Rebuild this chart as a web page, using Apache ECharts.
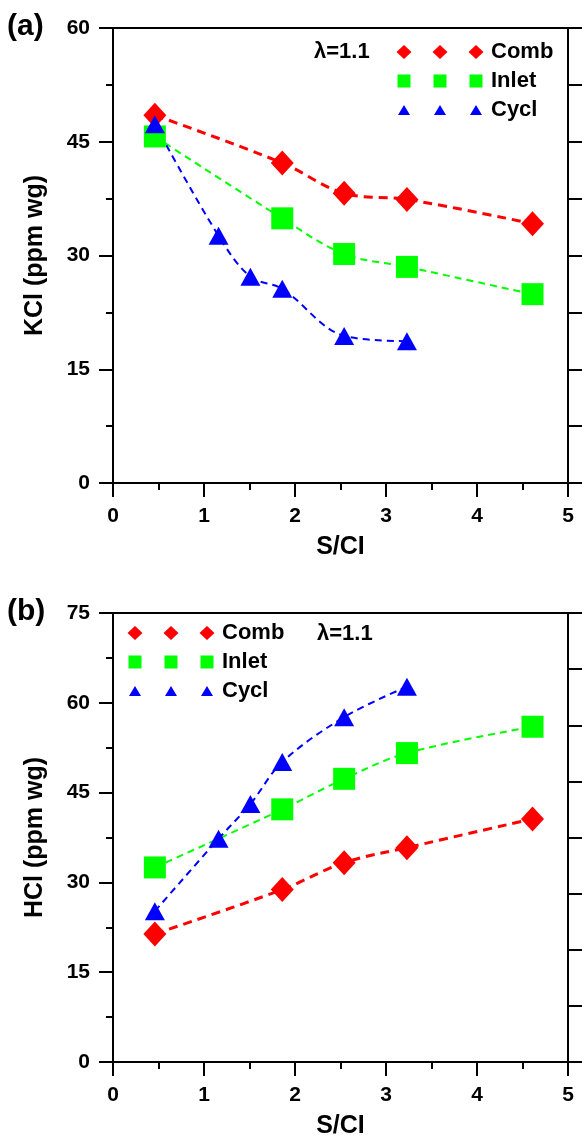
<!DOCTYPE html>
<html><head><meta charset="utf-8">
<script src="https://cdn.jsdelivr.net/npm/echarts@6/dist/echarts.min.js"></script>
<style>html,body{margin:0;padding:0;background:#fff}#c{width:582px;height:1140px}</style>
</head><body><div id="c"></div>
<script>
// ---- data ----
const xTicks = [0, 1, 2, 3, 4, 5];
const kclTicks = [0, 15, 30, 45, 60];
const hclTicks = [0, 15, 30, 45, 60, 75];
const xComb = [0.46, 1.86, 2.54, 3.23, 4.61];
const xInlet = [0.46, 1.86, 2.54, 3.23, 4.61];
const xCycl = [0.46, 1.16, 1.51, 1.86, 2.54, 3.23];
const kclComb = [48.5, 42.2, 38.2, 37.4, 34.2];
const kclInlet = [45.7, 34.9, 30.2, 28.5, 24.9];
const kclCycl = [47.3, 32.6, 27.2, 25.6, 19.4, 18.7];
const hclComb = [21.4, 28.8, 33.3, 35.8, 40.6];
const hclInlet = [32.5, 42.2, 47.3, 51.6, 56.0];
const hclCycl = [25.2, 37.3, 43.1, 50.1, 57.6, 62.7];
const seriesNames = ['Comb', 'Inlet', 'Cycl'];
const panelLabels = ['(a)', '(b)'];
const yNames = ['KCl (ppm wg)', 'HCl (ppm wg)'];
const xName = 'S/CI';
const lambdaText = '\u03bb=1.1';

// ---- helpers ----
const FONT = "'Liberation Sans', Arial, sans-serif";
const zip = (xs, ys) => xs.map((x, i) => [x, ys[i]]);
const colors = ['#ff0000', '#00ff00', '#0000ff'];
const grids = [
  { left: 113, top: 28, width: 455, height: 455, show: true, borderColor: '#000', borderWidth: 2 },
  { left: 113, top: 613, width: 455, height: 455, show: true, borderColor: '#000', borderWidth: 2 }
];
const axisLineStyle = { lineStyle: { color: '#000', width: 2 } };
const labelStyle = { color: '#000', fontSize: 21, fontWeight: 'bold', fontFamily: FONT };
const nameStyle = { color: '#000', fontSize: 25, fontWeight: 'bold', fontFamily: FONT };

function xAxis(g) {
  return {
    type: 'value', gridIndex: g, min: xTicks[0], max: xTicks[xTicks.length - 1],
    interval: xTicks[1] - xTicks[0],
    name: xName, nameLocation: 'middle', nameGap: 52, nameTextStyle: nameStyle,
    axisLine: axisLineStyle,
    axisTick: { show: true, inside: false, length: 14, lineStyle: { color: '#000', width: 2 } },
    minorTick: { show: true, splitNumber: 2, length: 7, lineStyle: { color: '#000', width: 2 } },
    axisLabel: Object.assign({ margin: 23 }, labelStyle),
    splitLine: { show: false }
  };
}
function yAxis(g, ticks, name) {
  return {
    type: 'value', gridIndex: g, min: ticks[0], max: ticks[ticks.length - 1],
    interval: ticks[1] - ticks[0], position: 'left',
    name: name, nameLocation: 'middle', nameGap: 65, nameTextStyle: nameStyle,
    axisLine: axisLineStyle,
    axisTick: { show: true, inside: false, length: 14, lineStyle: { color: '#000', width: 2 } },
    minorTick: { show: true, splitNumber: 2, length: 7, lineStyle: { color: '#000', width: 2 } },
    axisLabel: Object.assign({ margin: 23 }, labelStyle),
    splitLine: { show: false }
  };
}
function rightAxis(g) {
  return {
    type: 'value', gridIndex: g, min: 0, max: 8, interval: 1, position: 'right',
    axisLine: { show: true, onZero: false, lineStyle: { color: '#000', width: 2 } },
    axisTick: { show: true, inside: false, length: 14, lineStyle: { color: '#000', width: 2 } },
    axisLabel: { show: false }, splitLine: { show: false }
  };
}

const symbols = [
  { symbol: 'diamond', size: [23, 25], width: 3, dash: [9, 6] },
  { symbol: 'rect', size: 22, width: 2, dash: [7, 5] },
  { symbol: 'triangle', size: [20, 18], width: 2, dash: [7, 5] }
];
function mkSeries(i, g, xs, ys) {
  const s = symbols[i];
  return {
    type: 'line', name: seriesNames[i], xAxisIndex: g, yAxisIndex: g * 2,
    data: zip(xs, ys), smooth: 0.35,
    symbol: s.symbol, symbolSize: s.size, showAllSymbol: true,
    itemStyle: { color: colors[i], borderWidth: 0 },
    lineStyle: { color: colors[i], width: s.width, type: s.dash },
    emphasis: { disabled: true }, animation: false
  };
}

// legend icons: three symbols each, in a 90x16 box
function tri(cx) { return `M${cx} 3 L${cx + 6} 13 L${cx - 6} 13 Z`; }
function dia(cx) { return `M${cx} 1 L${cx + 7.5} 8 L${cx} 15 L${cx - 7.5} 8 Z`; }
function sq(cx) { return `M${cx - 6.5} 1.5 L${cx + 6.5} 1.5 L${cx + 6.5} 14.5 L${cx - 6.5} 14.5 Z`; }
const box = 'M0 0 L0 0 M90 16 L90 16 ';
const centers = [8, 44, 80];
const icons = [
  'path://' + box + centers.map(dia).join(' '),
  'path://' + box + centers.map(sq).join(' '),
  'path://' + box + centers.map(tri).join(' ')
];
function legend(left, top) {
  return {
    left: left, top: top, orient: 'vertical', itemWidth: 90, itemHeight: 16, itemGap: 1,
    padding: 0, selectedMode: false,
    itemStyle: { borderWidth: 0 },
    textStyle: { color: '#000', fontSize: 22, fontWeight: 'bold', fontFamily: FONT, lineHeight: 28 },
    data: seriesNames.map((n, i) => ({ name: n, icon: icons[i], itemStyle: { color: colors[i], borderWidth: 0 } }))
  };
}

const option = {
  backgroundColor: '#fff',
  animation: false,
  grid: grids,
  xAxis: [xAxis(0), xAxis(1)],
  yAxis: [yAxis(0, kclTicks, yNames[0]), rightAxis(0), yAxis(1, hclTicks, yNames[1]), rightAxis(1)],
  legend: [legend(396, 38), legend(127, 619)],
  series: [
    mkSeries(0, 0, xComb, kclComb), mkSeries(1, 0, xInlet, kclInlet), mkSeries(2, 0, xCycl, kclCycl),
    mkSeries(0, 1, xComb, hclComb), mkSeries(1, 1, xInlet, hclInlet), mkSeries(2, 1, xCycl, hclCycl)
  ],
  graphic: [
    { type: 'text', left: 7, top: 12, style: { text: panelLabels[0], fill: '#000', font: `bold 30px ${FONT}` } },
    { type: 'text', left: 7, top: 597, style: { text: panelLabels[1], fill: '#000', font: `bold 30px ${FONT}` } },
    { type: 'text', left: 314, top: 41, style: { text: lambdaText, fill: '#000', font: `bold 22px ${FONT}` } },
    { type: 'text', left: 317, top: 623, style: { text: lambdaText, fill: '#000', font: `bold 22px ${FONT}` } }
  ]
};
const chart = echarts.init(document.getElementById('c'), null, { renderer: 'canvas' });
chart.setOption(option);
</script></body></html>
